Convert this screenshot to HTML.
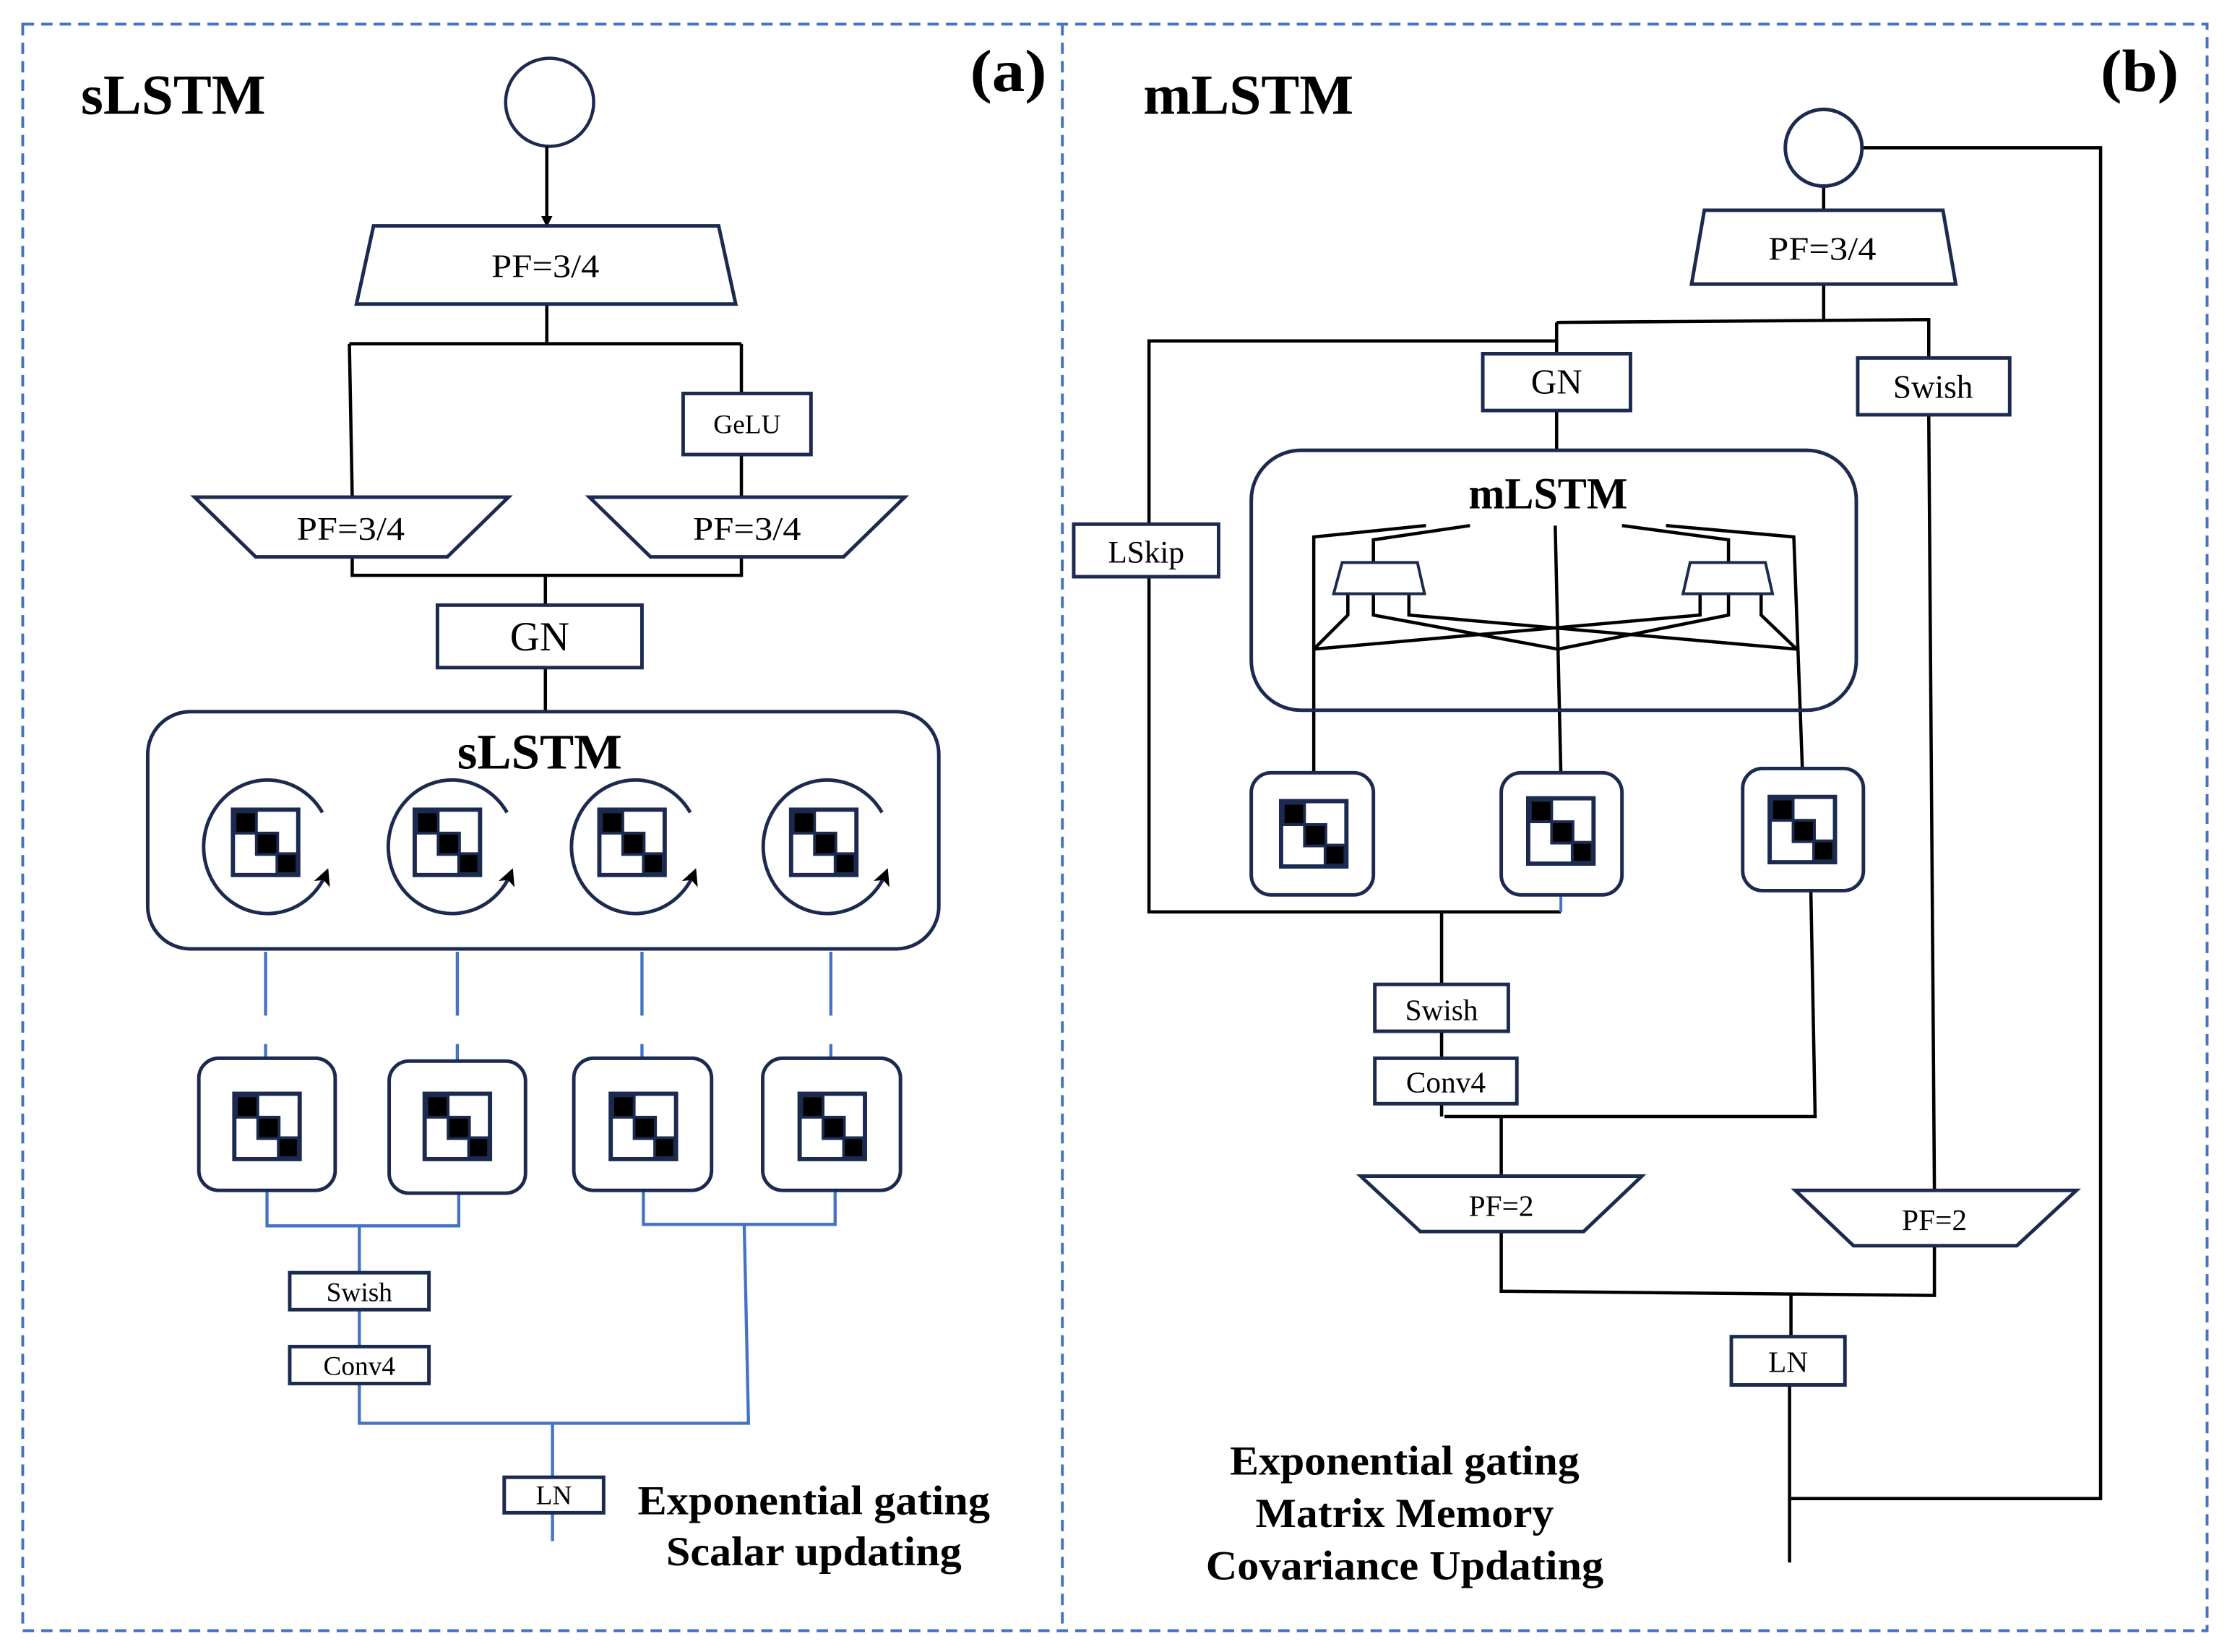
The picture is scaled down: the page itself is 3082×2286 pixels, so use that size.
<!DOCTYPE html>
<html><head><meta charset="utf-8"><style>
html,body{margin:0;padding:0;background:#fff;}
svg{display:block;}
text{font-family:"Liberation Serif",serif;fill:#000;}
</style></head><body>
<svg width="3082" height="2286" viewBox="0 0 1568 1163" xmlns="http://www.w3.org/2000/svg">
<defs>
<marker id="ah" markerWidth="8" markerHeight="8" refX="6" refY="4" orient="auto" markerUnits="userSpaceOnUse"><path d="M0,0 L8,4 L0,8 z" fill="#000"/></marker>
<marker id="ah2" markerWidth="12" markerHeight="12" refX="9" refY="6" orient="auto" markerUnits="userSpaceOnUse"><path d="M0,0 L12,6 L0,12 L3,6 z" fill="#000"/></marker>
<g id="mat">
<rect x="0" y="0" width="46" height="46" fill="#fff" stroke="#1b2a4e" stroke-width="3"/>
<rect x="1.5" y="1.5" width="15" height="15" fill="#000" stroke="#1b2a4e" stroke-width="2"/>
<rect x="16.5" y="16.5" width="15" height="15" fill="#000" stroke="#1b2a4e" stroke-width="2"/>
<rect x="31" y="31" width="14" height="14" fill="#000" stroke="#1b2a4e" stroke-width="2"/>
</g>
</defs>
<rect width="1568" height="1163" fill="#fff"/>
<rect x="16" y="17" width="1538" height="1131" fill="none" stroke="#4472c4" stroke-width="2" stroke-dasharray="8,5"/>
<line x1="748" y1="17" x2="748" y2="1148" stroke="#4472c4" stroke-width="2" stroke-dasharray="8,5"/>

<g font-weight="bold">
<text x="57" y="80" font-size="40" textLength="130" lengthAdjust="spacingAndGlyphs">sLSTM</text>
<text x="683" y="64" font-size="42" textLength="54" lengthAdjust="spacingAndGlyphs">(a)</text>
<text x="805" y="80" font-size="40" textLength="148" lengthAdjust="spacingAndGlyphs">mLSTM</text>
<text x="1479" y="64" font-size="42" textLength="55" lengthAdjust="spacingAndGlyphs">(b)</text>
</g>

<g stroke="#000" stroke-width="2.3" fill="none">
<circle cx="387" cy="72" r="31" stroke="#1b2a4e"/>
<line x1="385" y1="103" x2="385" y2="158" marker-end="url(#ah)"/>
<path d="M385,214 V242 M246,242 H522 M246,242 L248,350 M522,242 V277 M522,320 V350"/>
<path d="M248,392 V405 H522 V392 M384,405 V426 M384,470 V501"/>
</g>
<g stroke="#1b2a4e" stroke-width="2.5" fill="#fff">
<polygon points="263,159 506,159 518,214 251,214"/>
<rect x="481" y="277" width="90" height="43"/>
<polygon points="137,350 358,350 315,392 180,392"/>
<polygon points="415,350 637,350 594,392 458,392"/>
<rect x="308" y="426" width="144" height="44"/>
<rect x="104" y="501" width="557" height="167" rx="30"/>
</g>
<text x="384" y="195" font-size="23" text-anchor="middle" textLength="76" lengthAdjust="spacingAndGlyphs">PF=3/4</text>
<text x="526" y="305" font-size="19" text-anchor="middle">GeLU</text>
<text x="247" y="380" font-size="23" text-anchor="middle" textLength="76" lengthAdjust="spacingAndGlyphs">PF=3/4</text>
<text x="526" y="380" font-size="23" text-anchor="middle" textLength="76" lengthAdjust="spacingAndGlyphs">PF=3/4</text>
<text x="380" y="458" font-size="29" text-anchor="middle">GN</text>
<text x="380" y="541" font-size="35" font-weight="bold" text-anchor="middle" textLength="116" lengthAdjust="spacingAndGlyphs">sLSTM</text>

<g stroke="#1b2a4e" stroke-width="2.5" fill="none">
<path d="M227,572 A45 47 0 1 0 230,614" marker-end="url(#ah2)"/>
<path d="M357,572 A45 47 0 1 0 360,614" marker-end="url(#ah2)"/>
<path d="M486,572 A45 47 0 1 0 489,614" marker-end="url(#ah2)"/>
<path d="M621,572 A45 47 0 1 0 624,614" marker-end="url(#ah2)"/>
</g>
<use href="#mat" x="164" y="570"/>
<use href="#mat" x="292" y="570"/>
<use href="#mat" x="422" y="570"/>
<use href="#mat" x="557" y="570"/>

<g stroke="#4472c4" stroke-width="2.2" fill="none">
<path d="M187,670 V715 M187,735 V745 M322,670 V715 M322,735 V747 M452,670 V715 M452,735 V745 M585,670 V715 M585,735 V745"/>
<path d="M188,838 V863 H323 V840 M253,863 V896 M253,922 V948 M253,974 V1002 H527 L524,862 M453,838 V862 H588 V838 M389,1002 V1040 M389,1065 V1085"/>
</g>
<g stroke="#1b2a4e" stroke-width="2.5" fill="#fff">
<rect x="140" y="745" width="96" height="93" rx="14"/>
<rect x="274" y="747" width="96" height="93" rx="14"/>
<rect x="404" y="745" width="97" height="93" rx="14"/>
<rect x="537" y="745" width="97" height="93" rx="14"/>
<rect x="204" y="896" width="98" height="26"/>
<rect x="204" y="948" width="98" height="26"/>
<rect x="355" y="1040" width="70" height="25"/>
</g>
<use href="#mat" x="165" y="770"/>
<use href="#mat" x="299" y="770"/>
<use href="#mat" x="430" y="770"/>
<use href="#mat" x="563" y="770"/>
<text x="253" y="916" font-size="19" text-anchor="middle">Swish</text>
<text x="253" y="968" font-size="19" text-anchor="middle">Conv4</text>
<text x="390" y="1059" font-size="19" text-anchor="middle">LN</text>
<text x="573" y="1066" font-size="29" font-weight="bold" text-anchor="middle" textLength="248" lengthAdjust="spacingAndGlyphs">Exponential gating</text>
<text x="573" y="1102" font-size="29" font-weight="bold" text-anchor="middle" textLength="208" lengthAdjust="spacingAndGlyphs">Scalar updating</text>

<g stroke="#000" stroke-width="2.3" fill="none">
<path d="M1311,104 H1479 V1055 H1260"/>
<path d="M1284,131 V148 M1284,200 V226 M1096,227 L1358,225 V252 M1096,227 V249 M1096,240 H809 V369 M809,406 V642 H1099 M1096,289 V317"/>
<path d="M1358,292 L1362,838 M1015,642 V693 M1015,726 V745 M1015,777 V786 M1017,786 H1278 L1275,627 M1057,786 V828"/>
<path d="M1057,867 V909 L1362,912 V877 M1261,912 V941 M1260,975 V1100"/>
<path d="M1004,370 L925,378 V545 M1035,370 L967,380 V396 M1095,370 L1099,545 M1142,370 L1217,380 V396 M1173,370 L1263,378 L1269,541"/>
<path d="M949,418 V433 L925,457 M967,418 V433 L1097,457 M992,418 V433 L1265,457"/>
<path d="M1240,418 V433 L1265,457 M1217,418 V433 L1097,457 M1197,418 V433 L925,457"/>
</g>
<line x1="1099" y1="630" x2="1099" y2="642" stroke="#4472c4" stroke-width="2"/>
<g stroke="#1b2a4e" stroke-width="2.5" fill="#fff">
<circle cx="1284" cy="104" r="27"/>
<polygon points="1200,148 1368,148 1377,200 1191,200"/>
<rect x="1044" y="249" width="104" height="40"/>
<rect x="1308" y="252" width="107" height="40"/>
<rect x="756" y="369" width="102" height="37"/>
<rect x="968" y="693" width="94" height="33"/>
<rect x="968" y="745" width="100" height="32"/>
<polygon points="958,828 1156,828 1115,867 1000,867"/>
<polygon points="1264,838 1462,838 1420,877 1305,877"/>
<rect x="1219" y="941" width="80" height="34"/>
</g>
<g stroke="#1b2a4e" stroke-width="2.5" fill="none">
<rect x="881" y="317" width="426" height="183" rx="35"/>
</g>
<g stroke="#1b2a4e" stroke-width="2" fill="#fff">
<polygon points="945,396 998,396 1003,418 939,418"/>
<polygon points="1190,396 1243,396 1248,418 1185,418"/>
</g>
<g stroke="#1b2a4e" stroke-width="2.5" fill="#fff">
<rect x="881" y="544" width="86" height="86" rx="14"/>
<rect x="1057" y="544" width="85" height="86" rx="14"/>
<rect x="1227" y="541" width="85" height="86" rx="14"/>
</g>
<use href="#mat" x="902" y="564"/>
<use href="#mat" x="1076" y="562"/>
<use href="#mat" x="1246" y="561"/>
<text x="1283" y="183" font-size="23" text-anchor="middle" textLength="76" lengthAdjust="spacingAndGlyphs">PF=3/4</text>
<text x="1096" y="277" font-size="25" text-anchor="middle">GN</text>
<text x="1361" y="280" font-size="23" text-anchor="middle">Swish</text>
<text x="807" y="396" font-size="22" text-anchor="middle">LSkip</text>
<text x="1090" y="358" font-size="31" font-weight="bold" text-anchor="middle" textLength="112" lengthAdjust="spacingAndGlyphs">mLSTM</text>
<text x="1015" y="718" font-size="21" text-anchor="middle">Swish</text>
<text x="1018" y="769" font-size="21" text-anchor="middle">Conv4</text>
<text x="1057" y="856" font-size="21" text-anchor="middle">PF=2</text>
<text x="1362" y="866" font-size="21" text-anchor="middle">PF=2</text>
<text x="1259" y="966" font-size="21" text-anchor="middle">LN</text>
<g font-size="29" font-weight="bold" text-anchor="middle">
<text x="989" y="1038" textLength="246" lengthAdjust="spacingAndGlyphs">Exponential gating</text>
<text x="989" y="1075" textLength="210" lengthAdjust="spacingAndGlyphs">Matrix Memory</text>
<text x="989" y="1112" textLength="280" lengthAdjust="spacingAndGlyphs">Covariance Updating</text>
</g>
</svg>
</body></html>
